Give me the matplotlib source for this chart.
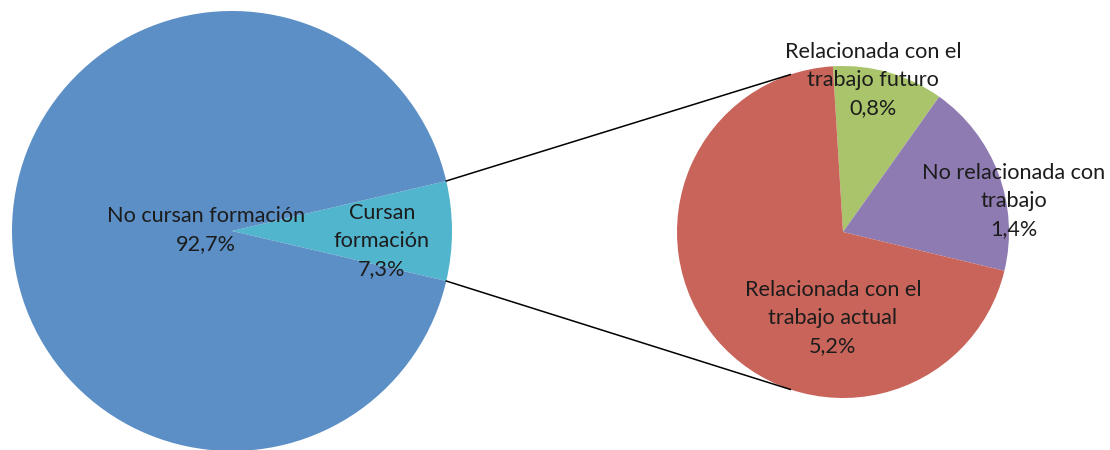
import numpy as np
import matplotlib
matplotlib.use("Agg")
import matplotlib.pyplot as plt

# données
principal_labels = ["Cursan\nformación", "No cursan formación"]
principal_vals = [7.3, 92.7]
principal_pct = ["7,3%", "92,7%"]

detalle_labels = ["Relacionada con el\ntrabajo futuro", "No relacionada con\ntrabajo", "Relacionada con el\ntrabajo actual"]
detalle_vals = [0.8, 1.4, 5.2]
detalle_pct = ["0,8%", "1,4%", "5,2%"]

c_principal = ["#52B5CE", "#5B8FC5"]
c_detalle = ["#A9C46B", "#8E7BB2", "#C9645A"]

plt.rcParams['font.family'] = ['Lato', 'DejaVu Sans']
txt_color = "#1c1c1c"
fs = 15.6

fig = plt.figure(figsize=(11.1, 4.5), dpi=100)
ax = fig.add_axes([0, 0, 1, 1])

# grand camembert
c1 = (232, 219)
r1 = 220
half = principal_vals[0] / sum(principal_vals) * 180
ax.pie(principal_vals, colors=c_principal, center=c1, radius=r1,
       startangle=-half, frame=True, wedgeprops=dict(linewidth=0))

# petit camembert
c2 = (843, 218)
r2 = 166
ax.pie(detalle_vals, colors=c_detalle, center=c2, radius=r2,
       startangle=93.5, counterclock=False, frame=True,
       wedgeprops=dict(linewidth=0))
ax.set_xlim(0, 1110)
ax.set_ylim(0, 450)
ax.set_aspect("equal")
ax.axis("off")

# lignes de liaison
for s in (1, -1):
    a1 = np.radians(s * half)
    a2 = np.radians(s * 108.5)
    p1 = (c1[0] + r1 * np.cos(a1), c1[1] + r1 * np.sin(a1))
    p2 = (c2[0] + r2 * np.cos(a2), c2[1] + r2 * np.sin(a2))
    ax.plot([p1[0], p2[0]], [p1[1], p2[1]], color="black", lw=1.1, zorder=1)

# étiquettes
pos_principal = [(382, 450 - 241), (206, 450 - 230)]
for lab, pct, (x, y) in zip(principal_labels, principal_pct, pos_principal):
    ax.text(x, y, lab + "\n" + pct, ha="center", va="center", fontsize=fs,
            color=txt_color, linespacing=1.5)

pos_detalle = [(873, 450 - 80), (1014, 450 - 201), (833, 450 - 318)]
for lab, pct, (x, y) in zip(detalle_labels, detalle_pct, pos_detalle):
    ax.text(x, y, lab + "\n" + pct, ha="center", va="center", fontsize=fs,
            color=txt_color, linespacing=1.5)

fig.savefig("out.png", dpi=100)
